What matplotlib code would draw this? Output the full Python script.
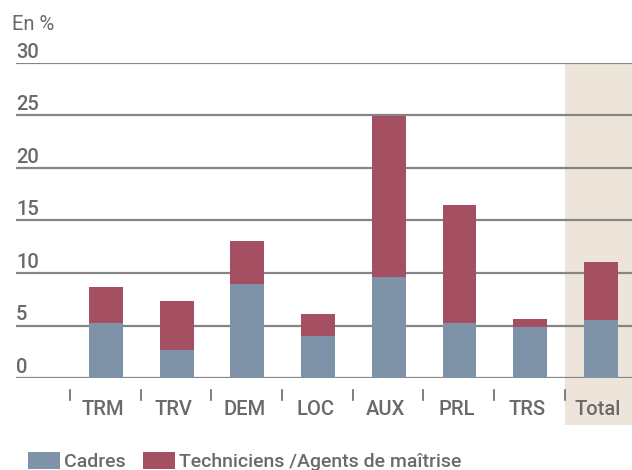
import matplotlib.pyplot as plt
import matplotlib.transforms as mtransforms
import numpy as np

categories = ['TRM', 'TRV', 'DEM', 'LOC', 'AUX', 'PRL', 'TRS', 'Total']
cadres = [5.25, 2.65, 8.95, 4.0, 9.65, 5.25, 4.85, 5.55]
techniciens = [3.45, 4.7, 4.1, 2.1, 15.3, 11.25, 0.8, 5.5]
yticks = [0, 5, 10, 15, 20, 25, 30]

c_cadres = '#7f93a8'
c_tech = '#a44f62'
c_text = '#6a6a6a'
c_grid = '#858585'
c_total_bg = '#ede5d9'

plt.rcParams['font.family'] = ['Roboto', 'DejaVu Sans']
plt.rcParams['font.weight'] = 'medium'

W, H = 632, 470
fig = plt.figure(figsize=(W / 100, H / 100), dpi=100)
# axes placed in pixels: left 16, right 632, y=0 at 378, y=30 at 63
ax = fig.add_axes([16 / W, (H - 378) / H, (632 - 16) / W, (378 - 63) / H])
ax.set_xlim(-1.273, 7.44)
ax.set_ylim(0, 30)
for s in ax.spines.values():
    s.set_visible(False)
ax.set_xticks([])
ax.set_yticks([])

x = np.arange(len(categories))

# shaded Total column
ax.axvspan(6.495, 8, ymin=-0.149, ymax=1.0, color=c_total_bg, lw=0, zorder=0, clip_on=False)

for v in yticks:
    ax.axhline(v, color=c_grid, lw=1.6, zorder=1)
    ax.text(0.0, v + 0.12, str(v), transform=mtransforms.blended_transform_factory(ax.transAxes, ax.transData),
            ha='left', va='bottom', fontsize=14.5, color=c_text)

ax.bar(x, cadres, width=0.48, color=c_cadres, zorder=2, label='Cadres')
ax.bar(x, techniciens, width=0.48, bottom=cadres, color=c_tech, zorder=2,
       label='Techniciens /Agents de maîtrise')

# category separators and labels below the axis
trans = mtransforms.blended_transform_factory(ax.transData, ax.transAxes)
for i, name in enumerate(categories):
    ax.plot([i - 0.51, i - 0.51], [-0.038, -0.07], color=c_text, lw=1.2, transform=trans, clip_on=False)
    ax.text(i - 0.04, -0.1, name, transform=trans, ha='center', va='center', fontsize=14.5, color=c_text)

fig.text(12 / W, 1 - 24 / H, 'En %', ha='left', va='center', fontsize=14.5, fontweight='normal', color=c_text)

fig.legend(loc='lower left', bbox_to_anchor=(20 / W, -9 / H), ncol=2, frameon=False,
           fontsize=14, labelcolor=c_text, handlelength=1.65, handleheight=1.0,
           handletextpad=0.2, columnspacing=0.9, borderaxespad=0)

fig.savefig('out.png', dpi=100)
